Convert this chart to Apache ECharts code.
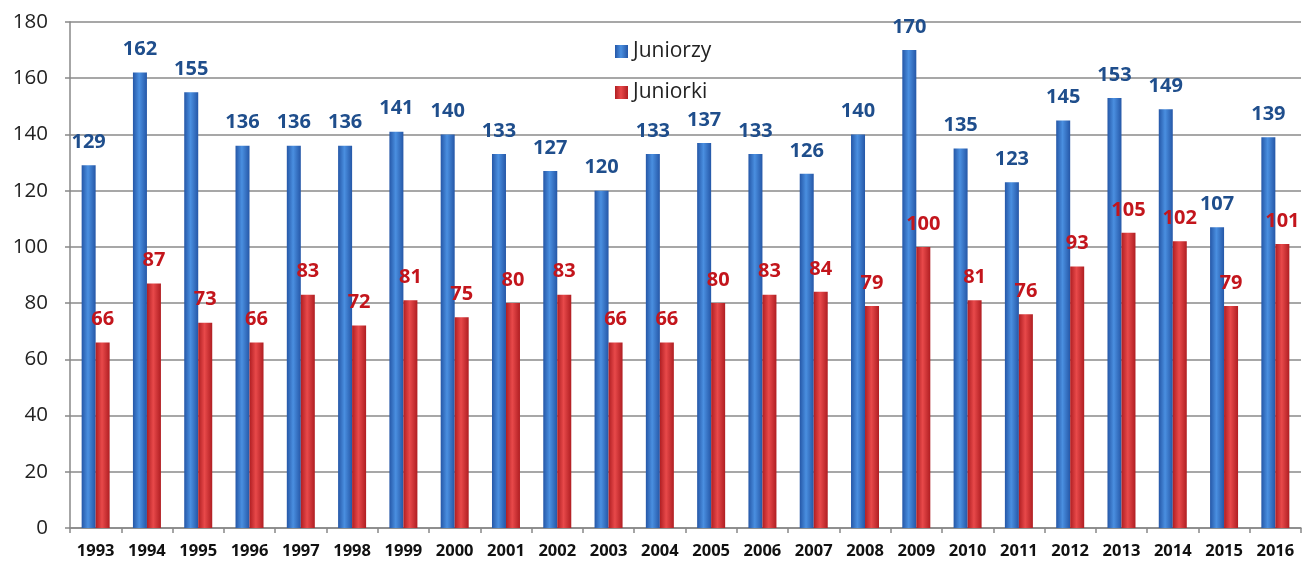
<!DOCTYPE html>
<html><head><meta charset="utf-8">
<script src="https://cdn.jsdelivr.net/npm/echarts@6/dist/echarts.min.js"></script>
<style>html,body{margin:0;padding:0;background:#fff}#c{width:1314px;height:562px}</style>
</head><body><div id="c"></div>
<script>
const years = ['1993','1994','1995','1996','1997','1998','1999','2000','2001','2002','2003','2004','2005','2006','2007','2008','2009','2010','2011','2012','2013','2014','2015','2016'];
const juniorzy = [129,162,155,136,136,136,141,140,133,127,120,133,137,133,126,140,170,135,123,145,153,149,107,139];
const juniorki = [66,87,73,66,83,72,81,75,80,83,66,66,80,83,84,79,100,81,76,93,105,102,79,101];
const yTicks = {min:0, max:180, interval:20};

function grad(dark, light){
  return new echarts.graphic.LinearGradient(0,0,1,0,[
    {offset:0,color:dark},{offset:0.45,color:light},{offset:1,color:dark}
  ]);
}
const chart = echarts.init(document.getElementById('c'));
chart.setOption({
  animation:false,
  backgroundColor:'#fff',
  grid:{left:70,right:13,top:22,bottom:34},
  legend:{
    orient:'vertical', left:610, top:36, itemGap:20, itemWidth:13, itemHeight:13,
    icon:'rect',
    textStyle:{fontFamily:'Open Sans',fontSize:21,color:'#222'},
    data:['Juniorzy','Juniorki']
  },
  xAxis:{
    type:'category', data:years,
    axisLine:{lineStyle:{color:'#888',width:1.5}},
    axisTick:{show:true,alignWithLabel:false,length:5,lineStyle:{color:'#888',width:1.5}},
    axisLabel:{fontFamily:'Open Sans',fontWeight:'bold',fontSize:16.5,color:'#111',margin:15}
  },
  yAxis:{
    type:'value', min:yTicks.min, max:yTicks.max, interval:yTicks.interval,
    axisLine:{show:true,lineStyle:{color:'#888',width:1.5}},
    axisTick:{show:true,length:5,lineStyle:{color:'#888',width:1.5}},
    splitLine:{lineStyle:{color:'#8a8a8a',width:1.5}},
    axisLabel:{fontFamily:'Open Sans',fontSize:20.5,color:'#222',margin:22}
  },
  series:[
    {name:'Juniorzy',type:'bar',data:juniorzy,barWidth:14,barGap:'0%',
     itemStyle:{color:grad('#2557a7','#4a8fe0')},
     label:{show:true,position:'top',distance:13,fontFamily:'Open Sans',fontWeight:'bold',fontSize:20,color:'#1f4e8c'}},
    {name:'Juniorki',type:'bar',data:juniorki,barWidth:14,
     itemStyle:{color:grad('#b01e22','#e8494a')},
     label:{show:true,position:'top',distance:13,fontFamily:'Open Sans',fontWeight:'bold',fontSize:20,color:'#c3151c'}}
  ]
});
</script></body></html>
